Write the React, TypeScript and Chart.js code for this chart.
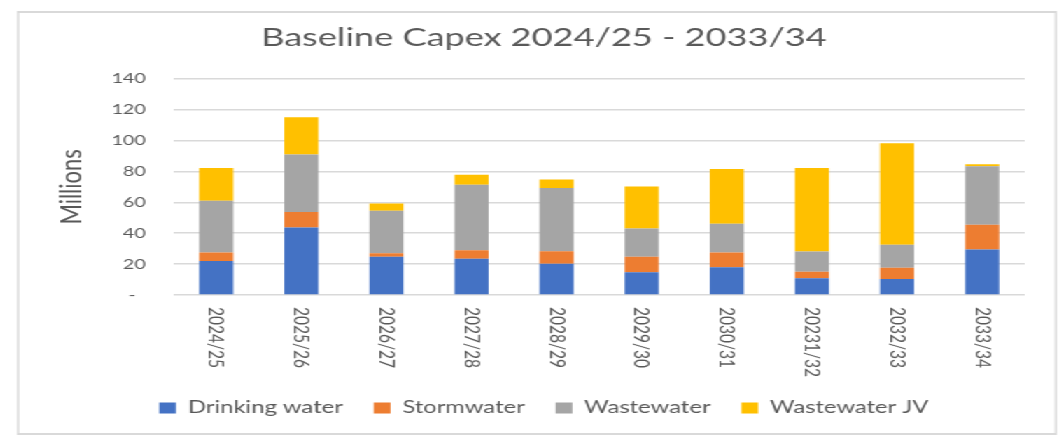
import React, { useEffect, useRef } from 'react';
import { Chart, registerables } from 'chart.js';

Chart.register(...registerables);

// ---- data ----
const categories = ['2024/25', '2025/26', '2026/27', '2027/28', '2028/29', '2029/30', '2030/31', '20231/32', '2032/33', '2033/34'];
const drinkingWater = [22, 43.7, 24.7, 23.4, 20.3, 14.7, 18, 10.8, 10.4, 29.4];
const stormwater = [5.5, 10, 2.3, 5.6, 8.1, 10, 9.5, 4.3, 7.3, 16.1];
const wastewater = [33.5, 37.2, 27.5, 42.4, 40.9, 18.3, 18.6, 13, 14.8, 37.8];
const wastewaterJV = [21.2, 24.2, 4.8, 6.5, 5.4, 27.3, 35.5, 54.1, 65.8, 1.3];
const seriesNames = ['Drinking water', 'Stormwater', 'Wastewater', 'Wastewater JV'];
const seriesColors = ['#4472C4', '#ED7D31', '#A5A5A5', '#FFC000'];
const titleText = 'Baseline Capex 2024/25 - 2033/34';
const yAxisTitle = 'Millions';
const yMax = 140;
const yStep = 20;

// ---- presentation ----
const STRETCH = 1.4;
const PAGE_W = 1064;
const PAGE_H = 439;
const BASE_W = PAGE_W / STRETCH;
const TEXT = '#595959';
const FONT = 'Lato';

const framePlugin = {
  id: 'frame',
  beforeDraw(chart: any) {
    const ctx = chart.ctx;
    ctx.save();
    ctx.fillStyle = '#ffffff';
    ctx.fillRect(0, 0, chart.width, chart.height);
    ctx.fillStyle = '#d9d9d9';
    const l = 17 / STRETCH;
    const r = 1057 / STRETCH;
    const t = 11;
    const b = 435;
    ctx.fillRect(l, t, r - l, 2);
    ctx.fillRect(l, b - 2, r - l, 2);
    ctx.fillRect(l, t, 1.5, b - t);
    ctx.fillRect(r - 1.5, t, 1.5, b - t);
    ctx.restore();
  },
};

const xLabelPlugin = {
  id: 'xLabels',
  afterDraw(chart: any) {
    const xs = chart.scales.x;
    const ctx = chart.ctx;
    ctx.save();
    ctx.fillStyle = TEXT;
    ctx.font = `15.5px ${FONT}`;
    ctx.textAlign = 'left';
    ctx.textBaseline = 'middle';
    categories.forEach((label, i) => {
      const x = xs.getPixelForValue(i);
      ctx.save();
      ctx.translate(x, xs.top + 12);
      ctx.rotate(Math.PI / 2);
      ctx.fillText(label, 0, 0);
      ctx.restore();
    });
    ctx.restore();
  },
};

export default function App() {
  const ref = useRef<HTMLCanvasElement>(null);

  useEffect(() => {
    const values = [drinkingWater, stormwater, wastewater, wastewaterJV];
    const chart = new Chart(ref.current as HTMLCanvasElement, {
      type: 'bar',
      data: {
        labels: categories,
        datasets: seriesNames.map((name, i) => ({
          label: name,
          data: values[i],
          backgroundColor: seriesColors[i],
          borderWidth: 0,
          barPercentage: 0.4,
          categoryPercentage: 1,
        })),
      },
      options: {
        animation: false,
        responsive: true,
        maintainAspectRatio: false,
        layout: { padding: { left: 45, right: 28, top: 6, bottom: 12.5 } },
        plugins: {
          tooltip: { enabled: false },
          title: {
            display: true,
            text: titleText,
            color: TEXT,
            font: { family: FONT, size: 25.8, weight: 'normal' },
            padding: { top: 16.4, bottom: 25.4 },
          },
          legend: {
            position: 'bottom',
            labels: {
              boxWidth: 12,
              boxHeight: 11,
              padding: 22,
              color: TEXT,
              font: { family: FONT, size: 17 },
            },
          },
        },
        scales: {
          x: {
            stacked: true,
            ticks: { display: false },
            grid: { display: false },
            border: { display: false },
            afterFit: (s: any) => {
              s.height = 82.5;
            },
          },
          y: {
            stacked: true,
            min: 0,
            max: yMax,
            ticks: {
              stepSize: yStep,
              padding: 20,
              color: TEXT,
              font: { family: FONT, size: 14 },
              callback: (v: any) => (Number(v) === 0 ? '-  ' : String(v)),
            },
            grid: { color: '#d9d9d9', lineWidth: 1.5, drawTicks: false },
            border: { display: false },
            title: {
              display: true,
              text: yAxisTitle,
              color: TEXT,
              font: { family: FONT, size: 22 },
              padding: { top: -7.5, bottom: 0 },
            },
            afterFit: (s: any) => {
              s.width = 79;
            },
          },
        },
      },
      plugins: [framePlugin, xLabelPlugin],
    } as any);
    return () => chart.destroy();
  }, []);

  return (
    <div
      style={{
        position: 'absolute',
        left: 0,
        top: 0,
        width: BASE_W,
        height: PAGE_H,
        transform: `scaleX(${STRETCH})`,
        transformOrigin: '0 0',
        background: '#ffffff',
      }}
    >
      <canvas ref={ref} />
    </div>
  );
}
